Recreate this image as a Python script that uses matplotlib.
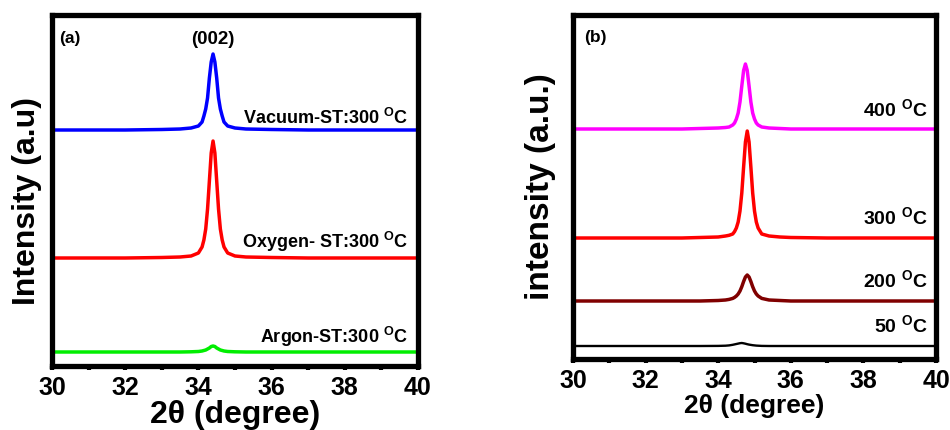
import matplotlib
matplotlib.use('Agg')
import matplotlib.pyplot as plt
from matplotlib.ticker import MultipleLocator

plt.rcParams['font.family'] = ['Liberation Sans', 'DejaVu Sans']
plt.rcParams['font.weight'] = 'bold'
plt.rcParams['mathtext.fontset'] = 'custom'
plt.rcParams['mathtext.rm'] = 'Liberation Sans:bold'
plt.rcParams['mathtext.bf'] = 'Liberation Sans:bold'

# ---- panel (a): annealing atmosphere, 2theta in degrees ----
two_theta_a = [30, 31, 32, 33, 33.5, 33.8, 34.0, 34.1, 34.15, 34.2, 34.25, 34.3, 34.35, 34.4,
               34.45, 34.5, 34.55, 34.6, 34.65, 34.7, 34.8, 35.0, 35.3, 36, 37, 38, 39, 40]
vacuum = [236, 236, 236, 236.5, 237, 238, 240, 244, 250, 257, 268, 288, 304, 312,
          304, 288, 268, 257, 250, 244, 240, 238, 237, 236.5, 236, 236, 236, 236]
oxygen = [108, 108, 108, 108.5, 109, 110, 113, 119, 126, 137, 157, 185, 213, 225,
          213, 185, 157, 137, 126, 119, 113, 110, 109, 108.5, 108, 108, 108, 108]
argon = [14, 14, 14, 14, 14, 14.2, 14.5, 15, 15.5, 16, 17, 18, 19.5, 20,
         19.5, 18, 17, 16, 15.5, 15, 14.5, 14.2, 14, 14, 14, 14, 14, 14]
labels_a = ['Vacuum-ST:300 $^\\mathrm{O}$C', 'Oxygen- ST:300 $^\\mathrm{O}$C', 'Argon-ST:300 $^\\mathrm{O}$C']
label_y_a = [124, 248, 343]  # baseline pixel rows of the labels
colors_a = ['#0000ff', '#ff0000', '#00ee00']

# ---- panel (b): annealing temperature ----
two_theta_b = [30, 31, 32, 33, 33.5, 34.0, 34.2, 34.3, 34.4, 34.45, 34.5, 34.55, 34.6, 34.65,
               34.7, 34.75, 34.8, 34.85, 34.9, 34.95, 35.0, 35.05, 35.1, 35.2, 35.4, 35.7,
               36, 37, 38, 39, 40]
t400 = [230, 230, 230, 230, 230.5, 231, 231.5, 232, 234, 236, 240, 246, 257, 273,
        288.5, 295, 288.5, 273, 257, 246, 240, 236, 234, 232, 231, 230.5,
        230, 230, 230, 230, 230]
t300 = [121, 121, 121, 121, 121.5, 122, 123, 123.7, 125, 127.4, 131, 137, 148, 166,
        192, 217, 228, 217, 192, 166, 148, 137, 131, 125, 123, 122,
        121.5, 121, 121, 121, 121]
t200 = [58, 58, 58, 58, 58, 58.5, 59, 59.6, 60.6, 61.6, 63, 65, 68, 72.3,
        77.5, 82, 84, 82, 77.5, 72.3, 68, 65, 63, 60.6, 59, 58.5,
        58, 58, 58, 58, 58]
t50 = [13, 13, 13, 13, 13, 13.1, 13.3, 13.6, 14.2, 14.6, 15, 15.4, 15.8, 16,
       15.7, 15.3, 14.8, 14.4, 14.1, 13.8, 13.6, 13.4, 13.3, 13.1, 13, 13,
       13, 13, 13, 13, 13]
labels_b = ['400 $^\\mathrm{O}$C', '300 $^\\mathrm{O}$C', '200 $^\\mathrm{O}$C', '50 $^\\mathrm{O}$C']
label_y_b = [117, 225, 288, 333]
colors_b = ['#ff00ff', '#ff0000', '#800000', '#000000']

W, H = 950, 430
fig = plt.figure(figsize=(9.5, 4.3), dpi=100)

def style_axes(ax):
    ax.set_xlim(30, 40)
    ax.xaxis.set_major_locator(MultipleLocator(2))
    ax.xaxis.set_minor_locator(MultipleLocator(1))
    ax.set_yticks([])
    for s in ax.spines.values():
        s.set_linewidth(3.8)
    ax.tick_params(axis='x', which='both', direction='out', length=3, width=3, pad=4,
                   labelsize=18)
    for t in ax.get_xticklabels():
        t.set_fontweight('bold')

# panel (a)
ax1 = fig.add_axes([52 / W, 1 - 366 / H, 366 / W, 351 / H])
ax1.plot(two_theta_a, vacuum, color=colors_a[0], lw=2.5)
ax1.plot(two_theta_a, oxygen, color=colors_a[1], lw=2.5)
ax1.plot(two_theta_a, argon, color=colors_a[2], lw=2.5)
ax1.set_ylim(0, 351)
style_axes(ax1)
ax1.set_xlabel('2θ (degree)', fontsize=23, fontweight='bold', labelpad=0)
ax1.set_ylabel('Intensity (a.u)', fontsize=23, fontweight='bold')
ax1.yaxis.set_label_coords(-0.028, 0.47)
for lab, yp in zip(labels_a, label_y_a):
    ax1.text(408 / W, 1 - yp / H, lab, transform=fig.transFigure, ha='right',
             va='baseline', fontsize=13, fontweight='bold')
ax1.text(0.02, 0.955, '(a)', transform=ax1.transAxes, fontsize=12.5, fontweight='bold',
         va='top')
ax1.text(34.4, 318, '(002)', ha='center', va='bottom', fontsize=13.5, fontweight='bold')

# panel (b)
ax2 = fig.add_axes([573 / W, 1 - 359 / H, 363 / W, 344 / H])
ax2.plot(two_theta_b, t400, color=colors_b[0], lw=2.5)
ax2.plot(two_theta_b, t300, color=colors_b[1], lw=2.5)
ax2.plot(two_theta_b, t200, color=colors_b[2], lw=2.5)
ax2.plot(two_theta_b, t50, color=colors_b[3], lw=1.7)
ax2.set_ylim(0, 344)
style_axes(ax2)
ax2.set_xlabel('2θ (degree)', fontsize=19, fontweight='bold', labelpad=1)
ax2.set_ylabel('intensity (a.u.)', fontsize=24, fontweight='bold')
ax2.yaxis.set_label_coords(-0.046, 0.5)
for lab, yp in zip(labels_b, label_y_b):
    ax2.text(928 / W, 1 - yp / H, lab, transform=fig.transFigure, ha='right',
             va='baseline', fontsize=14, fontweight='bold')
ax2.text(0.03, 0.955, '(b)', transform=ax2.transAxes, fontsize=12.5, fontweight='bold',
         va='top')

fig.savefig('out.png', dpi=100)
